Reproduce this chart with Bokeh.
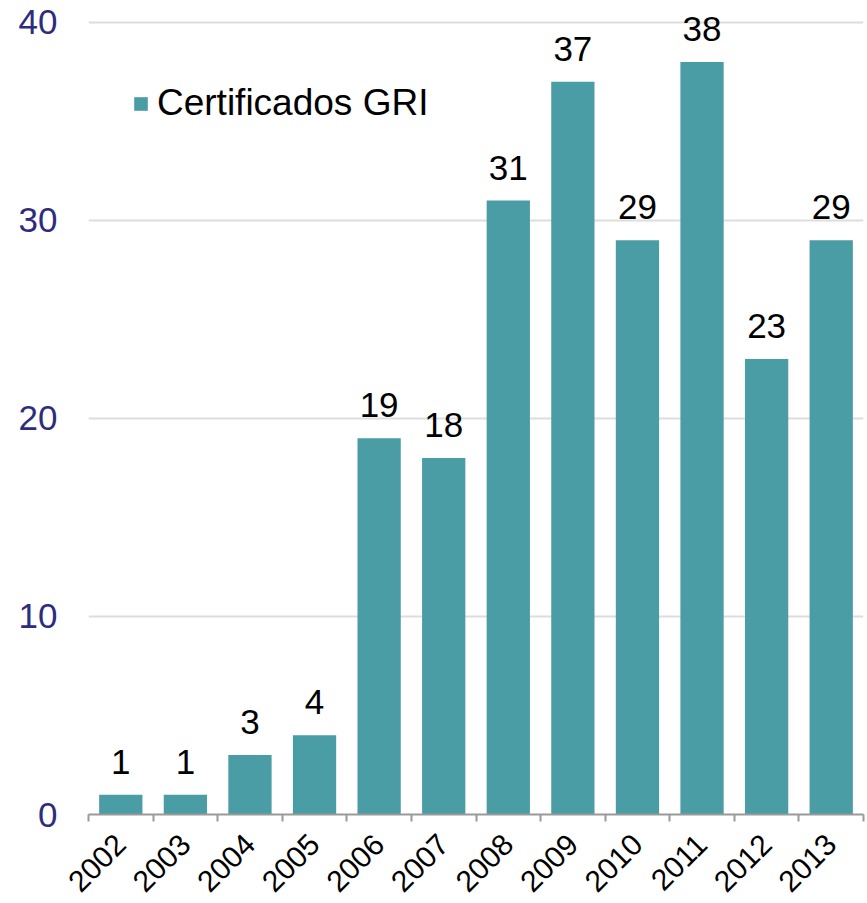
from bokeh.plotting import figure
from bokeh.models import ColumnDataSource, FixedTicker, LabelSet, Legend, LegendItem, Range1d
from bokeh.core.properties import value
from bokeh.embed import file_html
from bokeh.resources import INLINE
import math

years = ["2002", "2003", "2004", "2005", "2006", "2007", "2008", "2009", "2010", "2011", "2012", "2013"]
values = [1, 1, 3, 4, 19, 18, 31, 37, 29, 38, 23, 29]
series_name = "Certificados GRI"
y_ticks = [0, 10, 20, 30, 40]

FONT = "Liberation Sans"
BAR = "#4a9ca5"

centers = [i + 0.5 for i in range(len(years))]
bounds = [float(i) for i in range(len(years) + 1)]
src = ColumnDataSource(dict(x=centers, top=values, lab=[str(v) for v in values]))

p = figure(width=867, height=903, output_backend="svg", toolbar_location=None,
           x_range=Range1d(0, len(years)), y_range=Range1d(0, 41),
           min_border_left=88, min_border_right=4, min_border_top=2, min_border_bottom=10)
p.outline_line_color = None
p.background_fill_color = "white"

r = p.vbar(x="x", top="top", width=0.67, source=src, fill_color=BAR, line_color=None)

labels = LabelSet(x="x", y="top", text="lab", source=src, text_align="center",
                  text_baseline="bottom", y_offset=21, text_font=value(FONT),
                  text_font_size="35px", text_color="black")
p.add_layout(labels)

# x axis
p.xaxis.ticker = FixedTicker(ticks=centers, minor_ticks=bounds)
p.xaxis.major_label_overrides = {c: y for c, y in zip(centers, years)}
p.xaxis.major_tick_line_color = None
p.xaxis.minor_tick_line_color = "#999999"
p.xaxis.minor_tick_out = 7
p.xaxis.minor_tick_in = 0
p.xaxis.minor_tick_line_width = 2
p.xaxis.axis_line_color = "#999999"
p.xaxis.axis_line_width = 2
p.xaxis.major_label_orientation = math.pi / 4
p.xaxis.major_label_text_font = FONT
p.xaxis.major_label_text_font_size = "30px"
p.xaxis.major_label_text_color = "black"
p.xaxis.major_label_standoff = 18

# y axis
p.yaxis.ticker = FixedTicker(ticks=y_ticks)
p.yaxis.axis_line_color = None
p.yaxis.major_tick_line_color = None
p.yaxis.minor_tick_line_color = None
p.yaxis.major_label_text_font = FONT
p.yaxis.major_label_text_font_size = "35px"
p.yaxis.major_label_text_color = "#2e2c7c"
p.yaxis.major_label_standoff = 25

p.xgrid.grid_line_color = None
p.ygrid.grid_line_color = "#dddddd"
p.ygrid.grid_line_width = 2

legend = Legend(items=[LegendItem(label=series_name, renderers=[r])],
                location=(44, 690), orientation="vertical",
                label_text_font=FONT, label_text_font_size="37px",
                label_text_color="black", glyph_width=17, glyph_height=17,
                background_fill_alpha=0, border_line_color=None,
                padding=0, margin=0, label_standoff=8, spacing=0)
p.add_layout(legend)

open("out.html", "w").write(file_html(p, INLINE))
